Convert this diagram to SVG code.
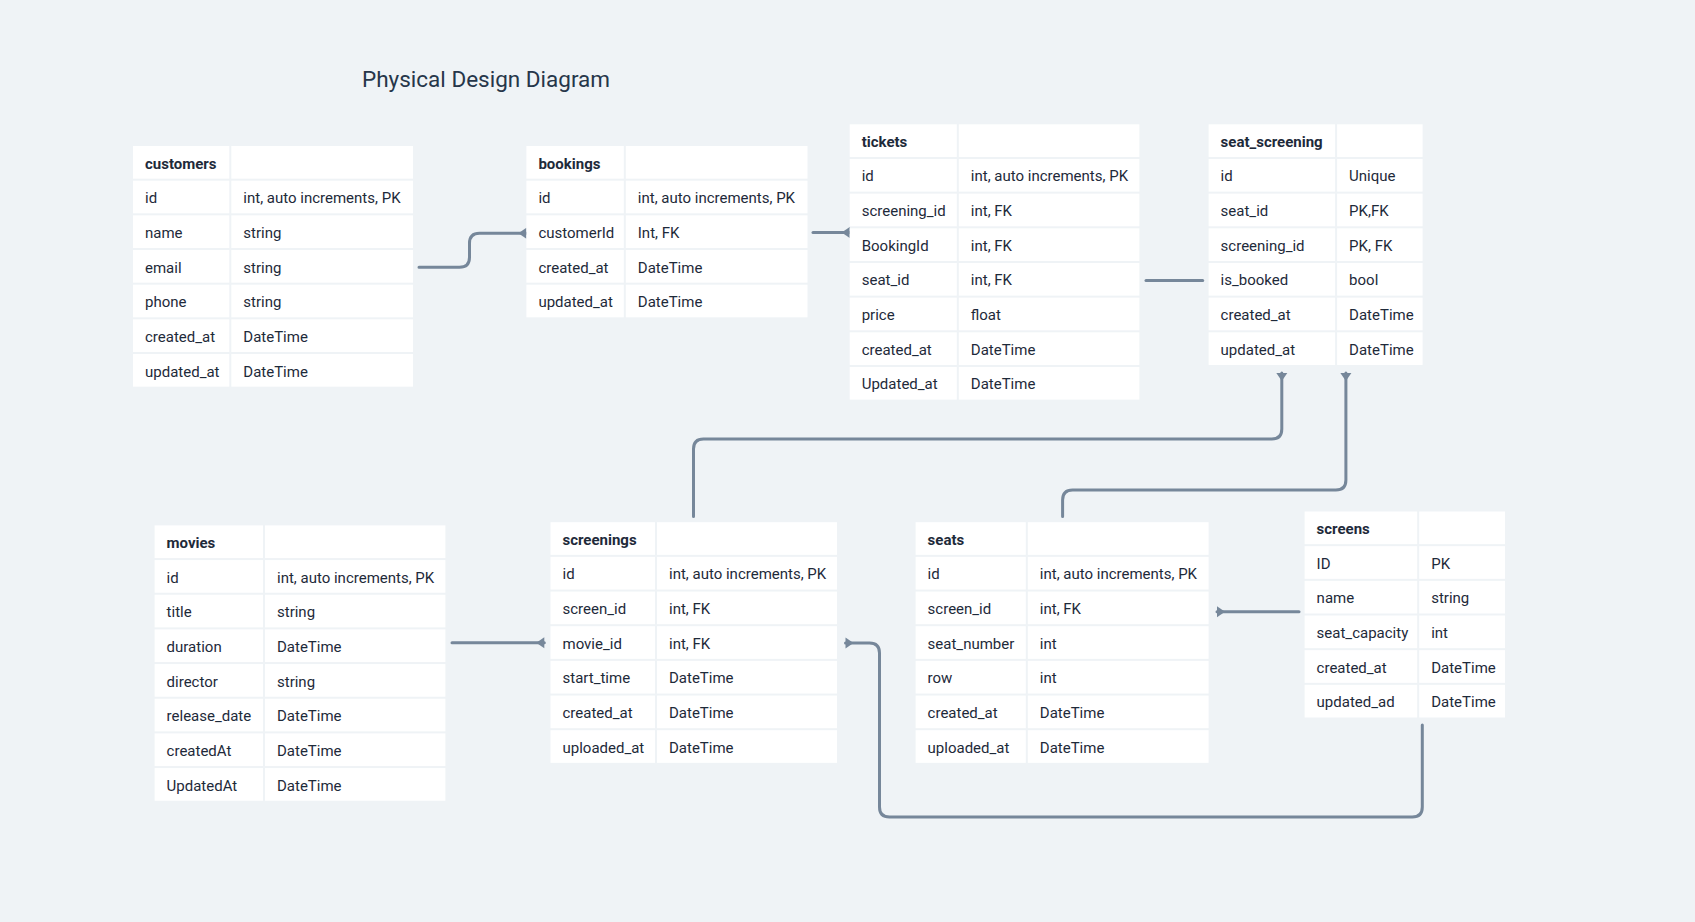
<svg xmlns="http://www.w3.org/2000/svg" width="1695" height="922" viewBox="0 0 1695 922">
<style>
.bg{fill:#eff3f6}
.c{fill:#ffffff}
.t{font-family:Roboto,"Liberation Sans",sans-serif;font-size:15px;fill:#1e2a3a}
.h{font-family:Roboto,"Liberation Sans",sans-serif;font-size:15px;font-weight:bold;fill:#1e2a3a}
.title{font-family:Roboto,"Liberation Sans",sans-serif;font-size:22.5px;fill:#26364a}
.ln{fill:none;stroke:#76879a;stroke-width:3;stroke-linecap:round}
</style>
<defs>
<marker id="tri" viewBox="-10 -7 12 14" refX="0" refY="0" markerWidth="12" markerHeight="14" markerUnits="userSpaceOnUse" orient="auto-start-reverse">
<path d="M0,-5.5 L0,5.5 L-8,0 Z" fill="#76879a"/>
</marker>
</defs>
<rect class="bg" x="0" y="0" width="1695" height="922"/>
<text class="title" x="362" y="87">Physical Design Diagram</text>

<g id="connectors">
<path class="ln" d="M419 267.3 H459.5 Q469.5 267.3 469.5 257.3 V243.3 Q469.5 233.3 479.5 233.3 H526.4" marker-end="url(#tri)"/>
<path class="ln" d="M813 232.5 H849.7" marker-end="url(#tri)"/>
<path class="ln" d="M1146 280.5 H1202.7"/>
<path class="ln" d="M1281.8 373 V429 Q1281.8 439 1271.8 439 H703.5 Q693.5 439 693.5 449 V516.5" marker-start="url(#tri)"/>
<path class="ln" d="M1345.9 373 V480 Q1345.9 490 1335.9 490 H1072.6 Q1062.6 490 1062.6 500 V516.5" marker-start="url(#tri)"/>
<path class="ln" d="M452 642.7 H544.3" marker-end="url(#tri)"/>
<path class="ln" d="M1422.3 725 V807 Q1422.3 817 1412.3 817 H889.5 Q879.5 817 879.5 807 V653 Q879.5 643 869.5 643 H845.5" marker-end="url(#tri)"/>
<path class="ln" d="M1299 611.7 H1217" marker-end="url(#tri)"/>
</g>

<g id="customers" transform="translate(133,146)">
<rect class="c" x="0" y="0" width="96.3" height="32.67"/><rect class="c" x="98.3" y="0" width="181.7" height="32.67"/>
<rect class="c" x="0" y="34.67" width="96.3" height="32.67"/><rect class="c" x="98.3" y="34.67" width="181.7" height="32.67"/>
<rect class="c" x="0" y="69.33" width="96.3" height="32.67"/><rect class="c" x="98.3" y="69.33" width="181.7" height="32.67"/>
<rect class="c" x="0" y="104" width="96.3" height="32.67"/><rect class="c" x="98.3" y="104" width="181.7" height="32.67"/>
<rect class="c" x="0" y="138.67" width="96.3" height="32.67"/><rect class="c" x="98.3" y="138.67" width="181.7" height="32.67"/>
<rect class="c" x="0" y="173.33" width="96.3" height="32.67"/><rect class="c" x="98.3" y="173.33" width="181.7" height="32.67"/>
<rect class="c" x="0" y="208" width="96.3" height="32.67"/><rect class="c" x="98.3" y="208" width="181.7" height="32.67"/>
<text class="h" x="12" y="22.5">customers</text>
<text class="t" x="12" y="57.2">id</text><text class="t" x="110.3" y="57.2">int, auto increments, PK</text>
<text class="t" x="12" y="91.8">name</text><text class="t" x="110.3" y="91.8">string</text>
<text class="t" x="12" y="126.5">email</text><text class="t" x="110.3" y="126.5">string</text>
<text class="t" x="12" y="161.2">phone</text><text class="t" x="110.3" y="161.2">string</text>
<text class="t" x="12" y="195.8">created_at</text><text class="t" x="110.3" y="195.8">DateTime</text>
<text class="t" x="12" y="230.5">updated_at</text><text class="t" x="110.3" y="230.5">DateTime</text>
</g>

<g id="bookings" transform="translate(526.4,146)">
<rect class="c" x="0" y="0" width="97.4" height="32.67"/><rect class="c" x="99.4" y="0" width="181.7" height="32.67"/>
<rect class="c" x="0" y="34.67" width="97.4" height="32.67"/><rect class="c" x="99.4" y="34.67" width="181.7" height="32.67"/>
<rect class="c" x="0" y="69.33" width="97.4" height="32.67"/><rect class="c" x="99.4" y="69.33" width="181.7" height="32.67"/>
<rect class="c" x="0" y="104" width="97.4" height="32.67"/><rect class="c" x="99.4" y="104" width="181.7" height="32.67"/>
<rect class="c" x="0" y="138.67" width="97.4" height="32.67"/><rect class="c" x="99.4" y="138.67" width="181.7" height="32.67"/>
<text class="h" x="12" y="22.5">bookings</text>
<text class="t" x="12" y="57.2">id</text><text class="t" x="111.4" y="57.2">int, auto increments, PK</text>
<text class="t" x="12" y="91.8">customerId</text><text class="t" x="111.4" y="91.8">Int, FK</text>
<text class="t" x="12" y="126.5">created_at</text><text class="t" x="111.4" y="126.5">DateTime</text>
<text class="t" x="12" y="161.2">updated_at</text><text class="t" x="111.4" y="161.2">DateTime</text>
</g>

<g id="tickets" transform="translate(849.7,124.3)">
<rect class="c" x="0" y="0" width="107.1" height="32.67"/><rect class="c" x="109.1" y="0" width="180.6" height="32.67"/>
<rect class="c" x="0" y="34.67" width="107.1" height="32.67"/><rect class="c" x="109.1" y="34.67" width="180.6" height="32.67"/>
<rect class="c" x="0" y="69.33" width="107.1" height="32.67"/><rect class="c" x="109.1" y="69.33" width="180.6" height="32.67"/>
<rect class="c" x="0" y="104" width="107.1" height="32.67"/><rect class="c" x="109.1" y="104" width="180.6" height="32.67"/>
<rect class="c" x="0" y="138.67" width="107.1" height="32.67"/><rect class="c" x="109.1" y="138.67" width="180.6" height="32.67"/>
<rect class="c" x="0" y="173.33" width="107.1" height="32.67"/><rect class="c" x="109.1" y="173.33" width="180.6" height="32.67"/>
<rect class="c" x="0" y="208" width="107.1" height="32.67"/><rect class="c" x="109.1" y="208" width="180.6" height="32.67"/>
<rect class="c" x="0" y="242.67" width="107.1" height="32.67"/><rect class="c" x="109.1" y="242.67" width="180.6" height="32.67"/>
<text class="h" x="12" y="22.5">tickets</text>
<text class="t" x="12" y="57.2">id</text><text class="t" x="121.1" y="57.2">int, auto increments, PK</text>
<text class="t" x="12" y="91.8">screening_id</text><text class="t" x="121.1" y="91.8">int, FK</text>
<text class="t" x="12" y="126.5">BookingId</text><text class="t" x="121.1" y="126.5">int, FK</text>
<text class="t" x="12" y="161.2">seat_id</text><text class="t" x="121.1" y="161.2">int, FK</text>
<text class="t" x="12" y="195.8">price</text><text class="t" x="121.1" y="195.8">float</text>
<text class="t" x="12" y="230.5">created_at</text><text class="t" x="121.1" y="230.5">DateTime</text>
<text class="t" x="12" y="265.2">Updated_at</text><text class="t" x="121.1" y="265.2">DateTime</text>
</g>

<g id="seat_screening" transform="translate(1208.6,124.3)">
<rect class="c" x="0" y="0" width="126.5" height="32.67"/><rect class="c" x="128.5" y="0" width="85.5" height="32.67"/>
<rect class="c" x="0" y="34.67" width="126.5" height="32.67"/><rect class="c" x="128.5" y="34.67" width="85.5" height="32.67"/>
<rect class="c" x="0" y="69.33" width="126.5" height="32.67"/><rect class="c" x="128.5" y="69.33" width="85.5" height="32.67"/>
<rect class="c" x="0" y="104" width="126.5" height="32.67"/><rect class="c" x="128.5" y="104" width="85.5" height="32.67"/>
<rect class="c" x="0" y="138.67" width="126.5" height="32.67"/><rect class="c" x="128.5" y="138.67" width="85.5" height="32.67"/>
<rect class="c" x="0" y="173.33" width="126.5" height="32.67"/><rect class="c" x="128.5" y="173.33" width="85.5" height="32.67"/>
<rect class="c" x="0" y="208" width="126.5" height="32.67"/><rect class="c" x="128.5" y="208" width="85.5" height="32.67"/>
<text class="h" x="12" y="22.5">seat_screening</text>
<text class="t" x="12" y="57.2">id</text><text class="t" x="140.5" y="57.2">Unique</text>
<text class="t" x="12" y="91.8">seat_id</text><text class="t" x="140.5" y="91.8">PK,FK</text>
<text class="t" x="12" y="126.5">screening_id</text><text class="t" x="140.5" y="126.5">PK, FK</text>
<text class="t" x="12" y="161.2">is_booked</text><text class="t" x="140.5" y="161.2">bool</text>
<text class="t" x="12" y="195.8">created_at</text><text class="t" x="140.5" y="195.8">DateTime</text>
<text class="t" x="12" y="230.5">updated_at</text><text class="t" x="140.5" y="230.5">DateTime</text>
</g>

<g id="movies" transform="translate(154.6,525.4)">
<rect class="c" x="0" y="0" width="108.4" height="32.67"/><rect class="c" x="110.4" y="0" width="180.4" height="32.67"/>
<rect class="c" x="0" y="34.67" width="108.4" height="32.67"/><rect class="c" x="110.4" y="34.67" width="180.4" height="32.67"/>
<rect class="c" x="0" y="69.33" width="108.4" height="32.67"/><rect class="c" x="110.4" y="69.33" width="180.4" height="32.67"/>
<rect class="c" x="0" y="104" width="108.4" height="32.67"/><rect class="c" x="110.4" y="104" width="180.4" height="32.67"/>
<rect class="c" x="0" y="138.67" width="108.4" height="32.67"/><rect class="c" x="110.4" y="138.67" width="180.4" height="32.67"/>
<rect class="c" x="0" y="173.33" width="108.4" height="32.67"/><rect class="c" x="110.4" y="173.33" width="180.4" height="32.67"/>
<rect class="c" x="0" y="208" width="108.4" height="32.67"/><rect class="c" x="110.4" y="208" width="180.4" height="32.67"/>
<rect class="c" x="0" y="242.67" width="108.4" height="32.67"/><rect class="c" x="110.4" y="242.67" width="180.4" height="32.67"/>
<text class="h" x="12" y="22.5">movies</text>
<text class="t" x="12" y="57.2">id</text><text class="t" x="122.4" y="57.2">int, auto increments, PK</text>
<text class="t" x="12" y="91.8">title</text><text class="t" x="122.4" y="91.8">string</text>
<text class="t" x="12" y="126.5">duration</text><text class="t" x="122.4" y="126.5">DateTime</text>
<text class="t" x="12" y="161.2">director</text><text class="t" x="122.4" y="161.2">string</text>
<text class="t" x="12" y="195.8">release_date</text><text class="t" x="122.4" y="195.8">DateTime</text>
<text class="t" x="12" y="230.5">createdAt</text><text class="t" x="122.4" y="230.5">DateTime</text>
<text class="t" x="12" y="265.2">UpdatedAt</text><text class="t" x="122.4" y="265.2">DateTime</text>
</g>

<g id="screenings" transform="translate(550.5,522.2)">
<rect class="c" x="0" y="0" width="104.5" height="32.67"/><rect class="c" x="106.5" y="0" width="180" height="32.67"/>
<rect class="c" x="0" y="34.67" width="104.5" height="32.67"/><rect class="c" x="106.5" y="34.67" width="180" height="32.67"/>
<rect class="c" x="0" y="69.33" width="104.5" height="32.67"/><rect class="c" x="106.5" y="69.33" width="180" height="32.67"/>
<rect class="c" x="0" y="104" width="104.5" height="32.67"/><rect class="c" x="106.5" y="104" width="180" height="32.67"/>
<rect class="c" x="0" y="138.67" width="104.5" height="32.67"/><rect class="c" x="106.5" y="138.67" width="180" height="32.67"/>
<rect class="c" x="0" y="173.33" width="104.5" height="32.67"/><rect class="c" x="106.5" y="173.33" width="180" height="32.67"/>
<rect class="c" x="0" y="208" width="104.5" height="32.67"/><rect class="c" x="106.5" y="208" width="180" height="32.67"/>
<text class="h" x="12" y="22.5">screenings</text>
<text class="t" x="12" y="57.2">id</text><text class="t" x="118.5" y="57.2">int, auto increments, PK</text>
<text class="t" x="12" y="91.8">screen_id</text><text class="t" x="118.5" y="91.8">int, FK</text>
<text class="t" x="12" y="126.5">movie_id</text><text class="t" x="118.5" y="126.5">int, FK</text>
<text class="t" x="12" y="161.2">start_time</text><text class="t" x="118.5" y="161.2">DateTime</text>
<text class="t" x="12" y="195.8">created_at</text><text class="t" x="118.5" y="195.8">DateTime</text>
<text class="t" x="12" y="230.5">uploaded_at</text><text class="t" x="118.5" y="230.5">DateTime</text>
</g>

<g id="seats" transform="translate(915.6,522.2)">
<rect class="c" x="0" y="0" width="110.2" height="32.67"/><rect class="c" x="112.2" y="0" width="180.8" height="32.67"/>
<rect class="c" x="0" y="34.67" width="110.2" height="32.67"/><rect class="c" x="112.2" y="34.67" width="180.8" height="32.67"/>
<rect class="c" x="0" y="69.33" width="110.2" height="32.67"/><rect class="c" x="112.2" y="69.33" width="180.8" height="32.67"/>
<rect class="c" x="0" y="104" width="110.2" height="32.67"/><rect class="c" x="112.2" y="104" width="180.8" height="32.67"/>
<rect class="c" x="0" y="138.67" width="110.2" height="32.67"/><rect class="c" x="112.2" y="138.67" width="180.8" height="32.67"/>
<rect class="c" x="0" y="173.33" width="110.2" height="32.67"/><rect class="c" x="112.2" y="173.33" width="180.8" height="32.67"/>
<rect class="c" x="0" y="208" width="110.2" height="32.67"/><rect class="c" x="112.2" y="208" width="180.8" height="32.67"/>
<text class="h" x="12" y="22.5">seats</text>
<text class="t" x="12" y="57.2">id</text><text class="t" x="124.2" y="57.2">int, auto increments, PK</text>
<text class="t" x="12" y="91.8">screen_id</text><text class="t" x="124.2" y="91.8">int, FK</text>
<text class="t" x="12" y="126.5">seat_number</text><text class="t" x="124.2" y="126.5">int</text>
<text class="t" x="12" y="161.2">row</text><text class="t" x="124.2" y="161.2">int</text>
<text class="t" x="12" y="195.8">created_at</text><text class="t" x="124.2" y="195.8">DateTime</text>
<text class="t" x="12" y="230.5">uploaded_at</text><text class="t" x="124.2" y="230.5">DateTime</text>
</g>

<g id="screens" transform="translate(1304.6,511.5)">
<rect class="c" x="0" y="0" width="112.6" height="32.67"/><rect class="c" x="114.6" y="0" width="85.8" height="32.67"/>
<rect class="c" x="0" y="34.67" width="112.6" height="32.67"/><rect class="c" x="114.6" y="34.67" width="85.8" height="32.67"/>
<rect class="c" x="0" y="69.33" width="112.6" height="32.67"/><rect class="c" x="114.6" y="69.33" width="85.8" height="32.67"/>
<rect class="c" x="0" y="104" width="112.6" height="32.67"/><rect class="c" x="114.6" y="104" width="85.8" height="32.67"/>
<rect class="c" x="0" y="138.67" width="112.6" height="32.67"/><rect class="c" x="114.6" y="138.67" width="85.8" height="32.67"/>
<rect class="c" x="0" y="173.33" width="112.6" height="32.67"/><rect class="c" x="114.6" y="173.33" width="85.8" height="32.67"/>
<text class="h" x="12" y="22.5">screens</text>
<text class="t" x="12" y="57.2">ID</text><text class="t" x="126.6" y="57.2">PK</text>
<text class="t" x="12" y="91.8">name</text><text class="t" x="126.6" y="91.8">string</text>
<text class="t" x="12" y="126.5">seat_capacity</text><text class="t" x="126.6" y="126.5">int</text>
<text class="t" x="12" y="161.2">created_at</text><text class="t" x="126.6" y="161.2">DateTime</text>
<text class="t" x="12" y="195.8">updated_ad</text><text class="t" x="126.6" y="195.8">DateTime</text>
</g>
</svg>
